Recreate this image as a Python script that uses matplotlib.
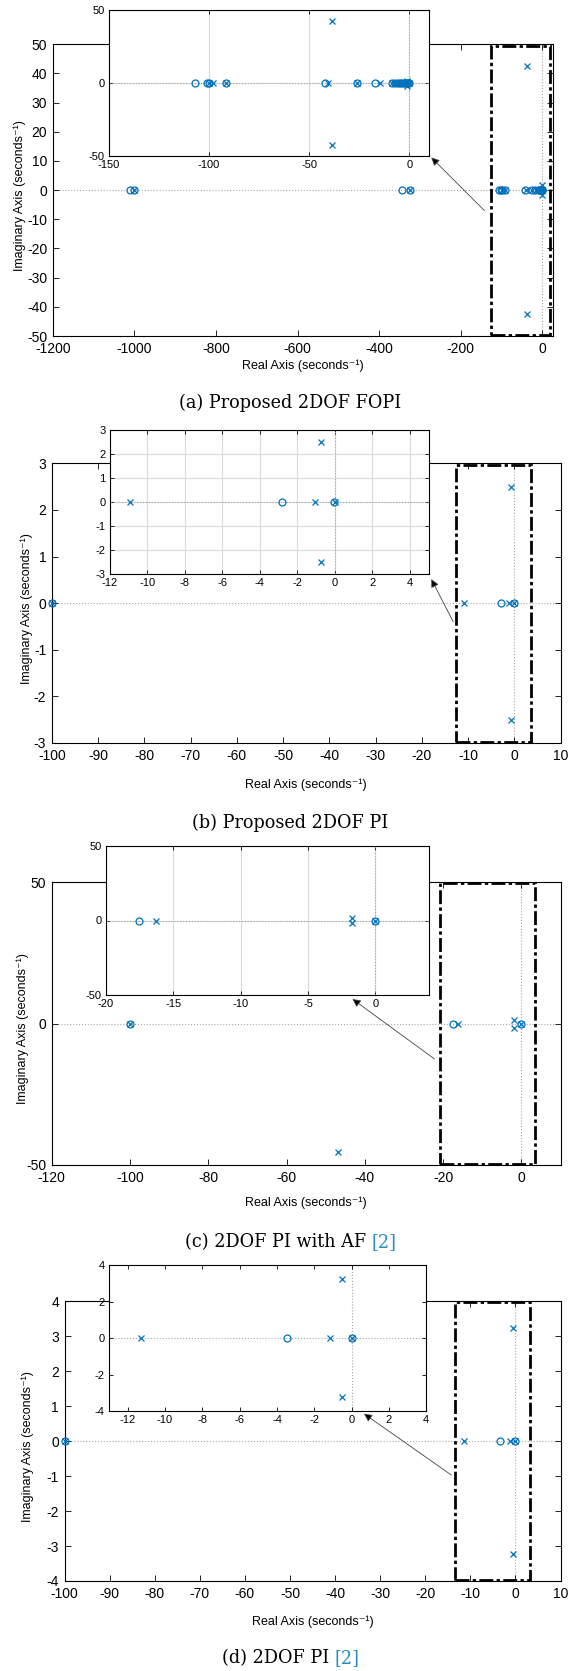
import matplotlib
matplotlib.use('Agg')
import matplotlib.pyplot as plt
from matplotlib.patches import Rectangle, ConnectionPatch

plt.rcParams['font.family'] = ['Liberation Sans', 'DejaVu Sans']
plt.rcParams['axes.unicode_minus'] = False

W, H = 569, 1671
BLUE = '#0072BD'
CITE = '#2b8cc0'

# (a) Proposed 2DOF FOPI
a_zeros_re = [-1012, -1000, -343, -325, -107, -101, -100, -91.7, -42.3, -26.2, -17.3,
              -8.5, -7.2, -5.8, -4.4, -3.5, -2.6, -1.8, -1.0, -0.4, 0.0]
a_zeros_im = [0] * len(a_zeros_re)
a_poles_re = [-1000, -325, -100, -98, -91.7, -40.8, -38.6, -38.6, -26.2, -14.4,
              -8.5, -7.2, -5.8, -4.4, -3.0, -2.2, -1.4, -1.2, -1.2, -0.6, 0.0]
a_poles_im = [0, 0, 0, 0, 0, 0, 42.4, -42.4, 0, 0,
              0, 0, 0, 0, 0, 0, 0, 1.7, -1.7, 0, 0]

# (b) Proposed 2DOF PI
b_zeros_re = [-100, -2.8, -0.02]
b_zeros_im = [0, 0, 0]
b_poles_re = [-100, -10.9, -1.07, -0.76, -0.76, 0.0]
b_poles_im = [0, 0, 0, 2.5, -2.5, 0]

# (c) 2DOF PI with AF [2]
c_zeros_re = [-100, -17.5, 0.0]
c_zeros_im = [0, 0, 0]
c_poles_re = [-100, -16.3, -1.76, -1.76, -46.8, -46.8, 0.0]
c_poles_im = [0, 0, 1.4, -1.4, 45.5, -45.5, 0]

# (d) 2DOF PI [2]
d_zeros_re = [-100, -3.45, 0.0]
d_zeros_im = [0, 0, 0]
d_poles_re = [-100, -11.3, -1.17, -0.5, -0.5, 0.0]
d_poles_im = [0, 0, 0, 3.23, -3.23, 0]

captions = [('(a) Proposed 2DOF FOPI', ''),
            ('(b) Proposed 2DOF PI', ''),
            ('(c) 2DOF PI with AF ', '[2]'),
            ('(d) 2DOF PI ', '[2]')]

fig = plt.figure(figsize=(W / 100, H / 100), dpi=100)


def px_axes(l, t, r, b):
    return fig.add_axes([l / W, 1 - b / H, (r - l) / W, (b - t) / H])


def pz(ax, zr, zi, pr, pi, clip):
    ax.axhline(0, color='#a8a8a8', ls=':', lw=0.8, zorder=1)
    ax.axvline(0, color='#a8a8a8', ls=':', lw=0.8, zorder=1)
    ax.plot(zr, zi, 'o', mfc='none', mec=BLUE, ms=5, mew=0.9, ls='none',
            clip_on=clip, zorder=3)
    ax.plot(pr, pi, 'x', color=BLUE, ms=5, mew=0.9, ls='none',
            clip_on=clip, zorder=3)


def style(ax, size, tick_len):
    ax.tick_params(direction='in', top=True, right=True, length=tick_len,
                   width=0.6, labelsize=size, pad=4)
    for s in ax.spines.values():
        s.set_linewidth(0.8)


panels = [
    dict(data=(a_zeros_re, a_zeros_im, a_poles_re, a_poles_im),
         main=(52.9, 44.3, 552.5, 336.0), xlim=(-1200, 25), ylim=(-50, 50),
         xt=range(-1200, 1, 200), yt=range(-50, 51, 10),
         ins=(109, 10.3, 429.3, 156.3), ixlim=(-150, 10), iylim=(-50, 50),
         ixt=[-150, -100, -50, 0], iyt=[-50, 0, 50], grid=True,
         rect=(-125, -49.5, 18, 49.5), tail=(-142, -7), tip=(11.0, -50.8),
         ylab=19.5, xlab=365.7, cap=403.3),
    dict(data=(b_zeros_re, b_zeros_im, b_poles_re, b_poles_im),
         main=(51.8, 463.3, 560.5, 743.0), xlim=(-100, 10), ylim=(-3, 3),
         xt=range(-100, 11, 10), yt=range(-3, 4),
         ins=(109.8, 429.7, 428.5, 574.3), ixlim=(-12, 5), iylim=(-3, 3),
         ixt=range(-12, 5, 2), iyt=range(-3, 4), grid=True,
         rect=(-12.7, -2.97, 3.7, 2.96), tail=(-13.2, -0.4), tip=(5.15, -3.2),
         ylab=26.5, xlab=784.3, cap=823.3),
    dict(data=(c_zeros_re, c_zeros_im, c_poles_re, c_poles_im),
         main=(51.8, 882.3, 560.5, 1165.0), xlim=(-120, 10), ylim=(-50, 50),
         xt=range(-120, 1, 20), yt=[-50, 0, 50],
         ins=(105.8, 846.0, 429.3, 995.0), ixlim=(-20, 4), iylim=(-50, 50),
         ixt=range(-20, 1, 5), iyt=[-50, 0, 50], grid=True,
         rect=(-20.9, -49.5, 3.4, 49.6), tail=(-22.2, -12.5), tip=(-1.7, -52.7),
         ylab=22.5, xlab=1202.7, cap=1241.7),
    dict(data=(d_zeros_re, d_zeros_im, d_poles_re, d_poles_im),
         main=(64.6, 1301.3, 560.5, 1581.0), xlim=(-100, 10), ylim=(-4, 4),
         xt=range(-100, 11, 10), yt=range(-4, 5),
         ins=(109.0, 1265.3, 426.3, 1411.0), ixlim=(-13, 4), iylim=(-4, 4),
         ixt=range(-12, 5, 2), iyt=range(-4, 5, 2), grid=False,
         rect=(-13.3, -3.97, 3.2, 3.98), tail=(-14.2, -0.97), tip=(0.66, -4.15),
         ylab=27.5, xlab=1621.7, cap=1658.0),
]

renderer = fig.canvas.get_renderer()

# caption font size chosen so that caption (a) is about 221 px wide
probe = fig.text(0, 0, captions[0][0], fontsize=13, family='DejaVu Serif')
cap_size = 13 * 221 / probe.get_window_extent(renderer).width
probe.remove()

for p, cap in zip(panels, captions):
    zr, zi, pr, pi = p['data']
    l, t, r, b = p['main']
    ax = px_axes(l, t, r, b)
    pz(ax, zr, zi, pr, pi, clip=False)
    ax.set_xlim(p['xlim'])
    ax.set_ylim(p['ylim'])
    ax.set_xticks(list(p['xt']))
    ax.set_yticks(list(p['yt']))
    style(ax, 10, 4)
    x0, y0, x1, y1 = p['rect']
    ax.add_patch(Rectangle((x0, y0), x1 - x0, y1 - y0, fill=False, ec='black',
                           lw=2.0, ls=(0, (5, 1.2, 1.2, 1.2)), zorder=4))

    il, it, ir, ib = p['ins']
    ia = px_axes(il, it, ir, ib)
    if p['grid']:
        ia.grid(True, color='#dadada', lw=0.8)
        ia.set_axisbelow(True)
    pz(ia, zr, zi, pr, pi, clip=True)
    ia.set_xlim(p['ixlim'])
    ia.set_ylim(p['iylim'])
    ia.set_xticks(list(p['ixt']))
    ia.set_yticks(list(p['iyt']))
    style(ia, 8, 3)
    ia.tick_params(pad=3)

    con = ConnectionPatch(xyA=p['tail'], coordsA=ax.transData,
                          xyB=p['tip'], coordsB=ia.transData,
                          arrowstyle='-|>', mutation_scale=12, lw=0.6,
                          color='#444444', fc='black', zorder=10)
    fig.add_artist(con)

    fig.text((l + r) / 2 / W, 1 - p['xlab'] / H, 'Real Axis (seconds\u207b\u00b9)',
             ha='center', va='center', fontsize=9)
    fig.text(p['ylab'] / W, 1 - ((t + b) / 2 + 5) / H,
             'Imaginary Axis (seconds\u207b\u00b9)', ha='center', va='center',
             rotation=90, fontsize=9)

    # caption, optional coloured citation
    t1 = fig.text(0, 1 - p['cap'] / H, cap[0], ha='left', va='center',
                  fontsize=cap_size, family='DejaVu Serif')
    w1 = t1.get_window_extent(renderer).width
    w2 = 0
    t2 = None
    if cap[1]:
        t2 = fig.text(0, 1 - p['cap'] / H, cap[1], ha='left', va='center',
                      fontsize=cap_size, family='DejaVu Serif', color=CITE)
        w2 = t2.get_window_extent(renderer).width
    start = 290.5 - (w1 + w2) / 2
    t1.set_x(start / W)
    if t2 is not None:
        t2.set_x((start + w1) / W)

fig.savefig('out.png', dpi=100, facecolor='white')
